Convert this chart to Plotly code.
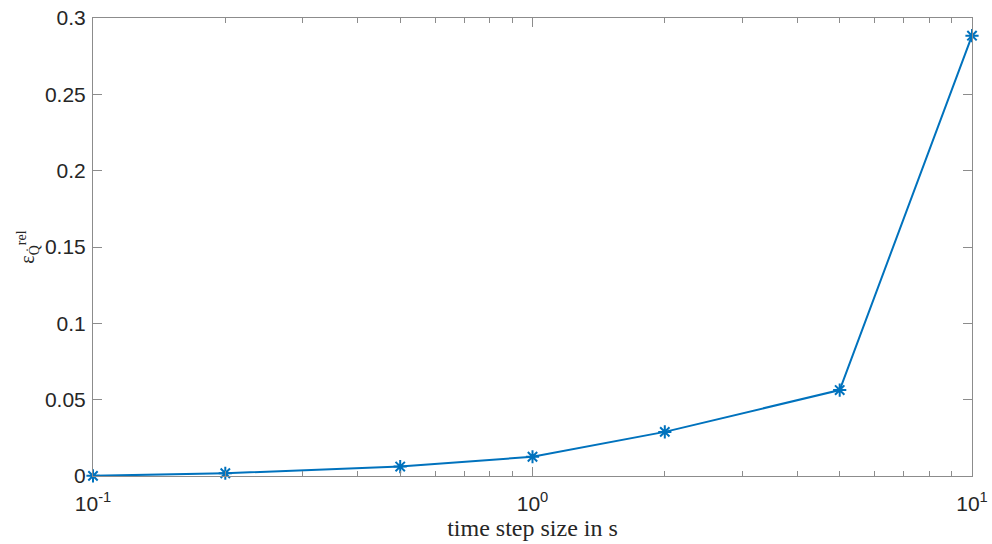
import plotly.graph_objects as go

step_size = [0.1, 0.2, 0.5, 1, 2, 5, 10]
rel_error = [0.0001, 0.0018, 0.0062, 0.0126, 0.0289, 0.0563, 0.2884]
x_tickvals = [0.1, 1, 10]
x_ticktext = ["10<sup>-1</sup>", "10<sup>0</sup>", "10<sup>1</sup>"]
y_tickvals = [0, 0.05, 0.1, 0.15, 0.2, 0.25, 0.3]
y_ticktext = ["0", "0.05", "0.1", "0.15", "0.2", "0.25", "0.3"]

color = "#0072BD"
axis_color = "#8c8c8c"

fig = go.Figure()
fig.add_trace(go.Scatter(
    x=step_size, y=rel_error, mode="lines+markers",
    line=dict(color=color, width=2),
    marker=dict(symbol="asterisk-open", size=11, color=color,
                line=dict(color=color, width=2)),
    showlegend=False, cliponaxis=False,
))

fig.update_layout(
    width=992, height=544,
    margin=dict(l=93, r=20, t=18, b=68),
    paper_bgcolor="white", plot_bgcolor="white",
    font=dict(family="Liberation Sans, Arial, sans-serif", size=21, color="#262626"),
)
fig.update_xaxes(
    type="log", range=[-1, 1], automargin=False,
    tickvals=x_tickvals, ticktext=x_ticktext,
    ticks="inside", ticklen=9, tickwidth=1, tickcolor=axis_color,
    ticklabelstandoff=9,
    minor=dict(ticks="inside", ticklen=5, tickwidth=1, tickcolor=axis_color, dtick="D1"),
    showline=True, linecolor=axis_color, linewidth=1, mirror="ticks",
    showgrid=False, zeroline=False,
    title=dict(text="time step size in s",
               font=dict(family="Liberation Serif, Times New Roman, serif", size=24, color="#262626"),
               standoff=2),
)
fig.update_yaxes(
    range=[0, 0.3], automargin=False,
    tickvals=y_tickvals, ticktext=y_ticktext,
    ticks="inside", ticklen=9, tickwidth=1, tickcolor=axis_color,
    ticklabelstandoff=2,
    showline=True, linecolor=axis_color, linewidth=1, mirror="ticks",
    showgrid=False, zeroline=False,
    title=dict(text="ε<sub>Q̇</sub><sup>rel</sup>",
               font=dict(family="Liberation Serif, Times New Roman, serif", size=20, color="#262626"),
               standoff=4),
)

fig.write_html("out.html")
